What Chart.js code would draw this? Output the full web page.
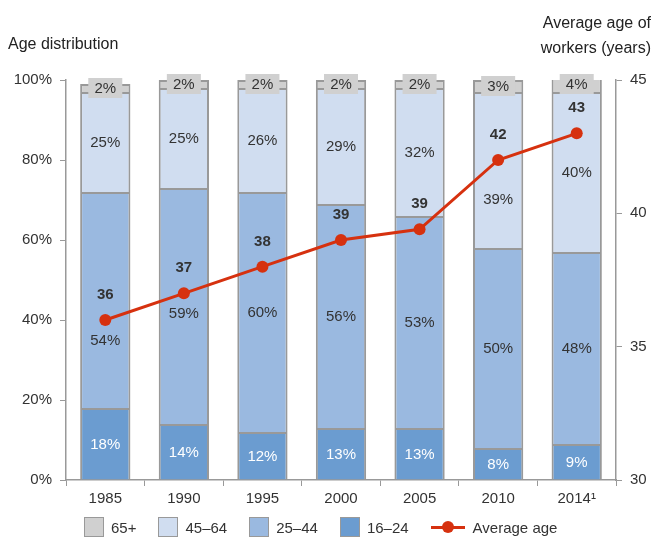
<!DOCTYPE html>
<html>
<head>
<meta charset="utf-8">
<script src="https://cdn.jsdelivr.net/npm/chart.js@4"></script>
<style>
  body { margin: 0; background: #fff; font-family: "Liberation Sans", Arial, sans-serif; color: #333; }
  #wrap { position: relative; width: 654px; height: 543px; }
  .ttl { position: absolute; font-size: 16px; color: #222; }
  #legend { position: absolute; top: 517px; left: 84px; display: flex; align-items: center; font-size: 15px; color: #333; }
  .item { display: flex; align-items: center; margin-right: 22px; }
  .box { width: 20px; height: 20px; box-sizing: border-box; border: 1.5px solid #999; margin-right: 7px; }
  .ln { position: relative; width: 34px; height: 3px; background: #d6310f; margin-right: 8px; }
  .ln::after { content: ""; position: absolute; left: 11px; top: -5px; width: 12px; height: 12px; border-radius: 50%; background: #d6310f; }
</style>
</head>
<body>
<div id="wrap">
  <canvas id="c" width="654" height="543"></canvas>
  <div class="ttl" style="left:8px; top:35px;">Age distribution</div>
  <div class="ttl" style="right:3px; top:10px; text-align:right; line-height:25px;">Average age of<br>workers (years)</div>
  <div id="legend"></div>
</div>
<script>
const years = ['1985', '1990', '1995', '2000', '2005', '2010', '2014¹'];
const share1624 = [18, 14, 12, 13, 13, 8, 9];
const share2544 = [54, 59, 60, 56, 53, 50, 48];
const share4564 = [25, 25, 26, 29, 32, 39, 40];
const share65 = [2, 2, 2, 2, 2, 3, 4];
const avgAge = [36, 37, 38, 39, 39.4, 42, 43];
const pctTicks = [0, 20, 40, 60, 80, 100];
const ageTicks = [30, 35, 40, 45];

const colors = { c65: '#d0d0d0', c4564: '#d0ddf0', c2544: '#9ab9e0', c1624: '#6b9cd0', line: '#d6310f' };

const legendItems = [
  ['65+', colors.c65], ['45–64', colors.c4564], ['25–44', colors.c2544], ['16–24', colors.c1624]
];
const lg = document.getElementById('legend');
legendItems.forEach(([t, c]) => {
  const d = document.createElement('div');
  d.className = 'item';
  d.innerHTML = '<div class="box" style="background:' + c + '"></div>' + t;
  lg.appendChild(d);
});
const li = document.createElement('div');
li.className = 'item';
li.innerHTML = '<div class="ln"></div>Average age';
lg.appendChild(li);

const bar = (label, data, color, textColor) => ({
  type: 'bar', label, data, backgroundColor: color, borderColor: '#999', borderWidth: 2,
  order: 1, yAxisID: 'y', textColor
});

const labelsPlugin = {
  id: 'labels',
  afterDatasetsDraw(chart) {
    const ctx = chart.ctx;
    const lineMeta = chart.getDatasetMeta(4);
    ctx.save();
    ctx.textAlign = 'center';
    ctx.textBaseline = 'middle';
    ctx.font = '15px "Liberation Sans", Arial, sans-serif';
    for (let d = 0; d < 4; d++) {
      const ds = chart.data.datasets[d];
      const meta = chart.getDatasetMeta(d);
      meta.data.forEach((el, i) => {
        const txt = ds.data[i] + '%';
        let y = (el.y + el.base) / 2;
        if (d === 3) {
          ctx.fillStyle = colors.c65;
          ctx.fillRect(el.x - 17, y - 10, 34, 20);
        } else {
          // keep segment labels clear of the age marker
          const py = lineMeta.data[i].y;
          if (Math.abs(y - py) < 36) y = d === 2 ? (py + el.base) / 2 - 5 : py + 20;
        }
        ctx.fillStyle = ds.textColor;
        ctx.fillText(txt, el.x, y + 1);
      });
    }
    ctx.font = 'bold 15px "Liberation Sans", Arial, sans-serif';
    ctx.fillStyle = '#333';
    lineMeta.data.forEach((pt, i) => {
      ctx.fillText(String(Math.round(avgAge[i])), pt.x, pt.y - 25);
    });
    ctx.restore();
  }
};

Chart.defaults.font.family = '"Liberation Sans", Arial, sans-serif';
Chart.defaults.font.size = 15;
Chart.defaults.color = '#333';

new Chart(document.getElementById('c'), {
  data: {
    labels: years,
    datasets: [
      bar('16–24', share1624, colors.c1624, '#fff'),
      bar('25–44', share2544, colors.c2544, '#333'),
      bar('45–64', share4564, colors.c4564, '#333'),
      bar('65+', share65, colors.c65, '#333'),
      {
        type: 'line', label: 'Average age', data: avgAge, yAxisID: 'y2', order: 0,
        borderColor: colors.line, backgroundColor: colors.line, borderWidth: 3,
        pointRadius: 6, pointBackgroundColor: colors.line, pointBorderWidth: 0, tension: 0
      }
    ]
  },
  options: {
    responsive: false,
    animation: false,
    layout: { padding: { top: 80, left: 0, right: 0, bottom: 0 } },
    datasets: { bar: { categoryPercentage: 1, barPercentage: 0.64 } },
    scales: {
      x: {
        stacked: true,
        grid: { display: true, drawOnChartArea: false, tickLength: 6, color: '#999', offset: true },
        border: { color: '#999', width: 1.5 },
        ticks: { padding: 4 },
        afterFit(s) { s.height = 63; }
      },
      y: {
        stacked: true, min: 0, max: 100, position: 'left',
        afterBuildTicks(s) { s.ticks = pctTicks.map(v => ({ value: v })); },
        ticks: { callback: v => v + '%', padding: 8 },
        grid: { display: true, drawOnChartArea: false, tickLength: 6, color: '#999' },
        border: { color: '#999', width: 1.5 },
        afterFit(s) { s.width = 66; }
      },
      y2: {
        min: 30, max: 45, position: 'right',
        afterBuildTicks(s) { s.ticks = ageTicks.map(v => ({ value: v })); },
        ticks: { padding: 8 },
        grid: { display: true, drawOnChartArea: false, tickLength: 6, color: '#999' },
        border: { color: '#999', width: 1.5 },
        afterFit(s) { s.width = 38; }
      }
    },
    plugins: { legend: { display: false }, tooltip: { enabled: false } }
  },
  plugins: [labelsPlugin]
});
</script>
</body>
</html>
